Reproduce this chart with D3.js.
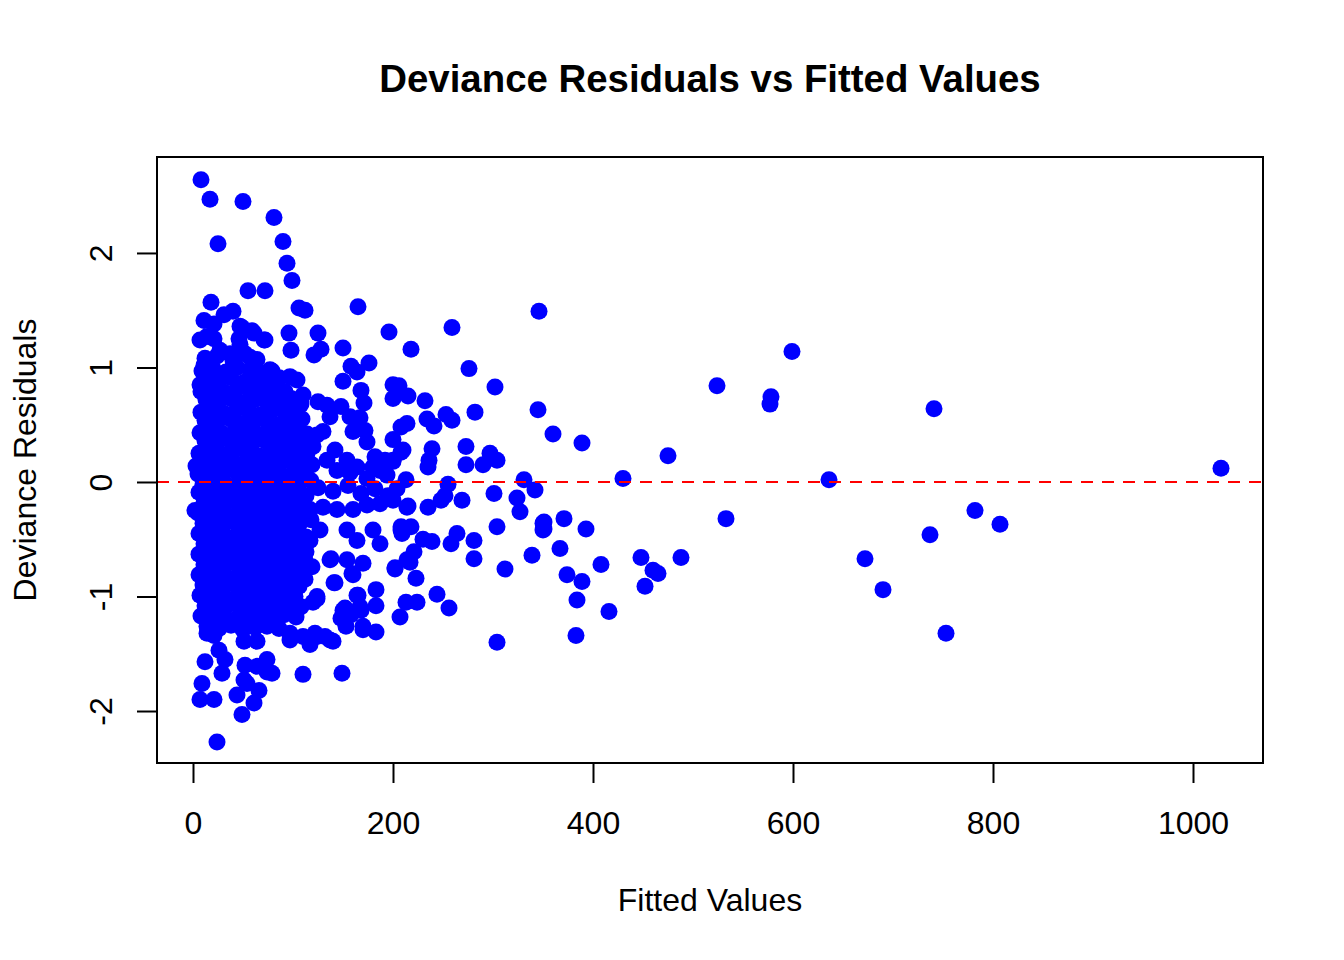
<!DOCTYPE html>
<html>
<head>
<meta charset="utf-8">
<script src="https://cdn.jsdelivr.net/npm/d3@7"></script>
<style>
  body { margin: 0; background: #fff; }
  text { font-family: "Liberation Sans", Arial, Helvetica, sans-serif; }
</style>
</head>
<body>
<div id="chart"></div>
<script>
// tick values for both axes
const xTicks = [0, 200, 400, 600, 800, 1000];
const yTicks = [-2, -1, 0, 1, 2];

// [fitted value, deviance residual]
// big dense block near zero fitted
const corePoints = [
  [12,1.08],[24,1.10],[40,1.06],[52,1.12],[64,1.07],
  [9,0.97],[20,0.99],[33,0.96],[44,1.00],[57,0.98],[68,0.95],[79,0.97],
  [14,0.90],[26,0.88],[38,0.91],[51,0.87],[63,0.90],[74,0.88],[86,0.91],
  [8,0.79],[20,0.81],[32,0.78],[45,0.82],[57,0.80],[69,0.77],[80,0.81],[92,0.79],
  [13,0.72],[25,0.70],[38,0.73],[50,0.69],[62,0.72],[74,0.70],[86,0.71],[98,0.73],[108,0.68],
  [8,0.61],[19,0.63],[31,0.60],[44,0.64],[56,0.62],[68,0.59],[80,0.63],[92,0.61],[103,0.62],
  [12,0.54],[24,0.52],[37,0.55],[49,0.51],[61,0.53],[73,0.54],[85,0.50],[97,0.53],[109,0.55],
  [7,0.43],[18,0.45],[30,0.42],[43,0.46],[55,0.44],[67,0.41],[79,0.45],[91,0.43],[103,0.44],[114,0.42],
  [12,0.36],[24,0.34],[36,0.37],[48,0.33],[60,0.35],[72,0.36],[84,0.34],[96,0.37],[108,0.33],
  [6,0.25],[18,0.27],[30,0.24],[42,0.28],[54,0.26],[66,0.23],[78,0.27],[90,0.25],[102,0.26],
  [11,0.18],[23,0.16],[35,0.19],[47,0.15],[59,0.17],[71,0.18],[83,0.16],[95,0.19],[107,0.17],[119,0.15],
  [5,0.07],[17,0.09],[29,0.06],[41,0.10],[53,0.08],[65,0.07],[77,0.09],[89,0.06],[101,0.08],[113,0.05],
  [10,-0.02],[22,0.00],[34,-0.03],[46,0.01],[58,-0.01],[70,-0.02],[82,0.00],[94,-0.03],[106,-0.01],[118,0.01],
  [6,-0.09],[17,-0.11],[29,-0.08],[41,-0.12],[53,-0.10],[65,-0.09],[77,-0.11],[89,-0.08],[101,-0.10],[113,-0.12],
  [11,-0.18],[23,-0.20],[35,-0.17],[47,-0.21],[59,-0.19],[71,-0.18],[83,-0.20],[95,-0.17],[107,-0.19],
  [5,-0.27],[17,-0.29],[29,-0.26],[41,-0.30],[53,-0.28],[65,-0.27],[77,-0.29],[89,-0.26],[101,-0.28],[113,-0.30],
  [10,-0.36],[22,-0.38],[34,-0.35],[46,-0.39],[58,-0.37],[70,-0.36],[82,-0.38],[94,-0.35],[106,-0.37],[118,-0.33],
  [6,-0.45],[17,-0.47],[29,-0.44],[41,-0.48],[53,-0.46],[65,-0.45],[77,-0.47],[89,-0.44],[101,-0.46],[113,-0.48],
  [11,-0.54],[23,-0.56],[35,-0.53],[47,-0.57],[59,-0.55],[71,-0.54],[83,-0.56],[95,-0.53],[107,-0.55],
  [6,-0.63],[18,-0.65],[30,-0.62],[42,-0.66],[54,-0.64],[66,-0.63],[78,-0.65],[90,-0.62],[102,-0.64],[113,-0.61],
  [11,-0.72],[23,-0.74],[35,-0.71],[47,-0.75],[59,-0.73],[71,-0.72],[83,-0.74],[95,-0.71],[107,-0.73],
  [6,-0.81],[17,-0.83],[29,-0.80],[41,-0.84],[53,-0.82],[65,-0.81],[77,-0.83],[89,-0.80],[101,-0.82],[112,-0.85],
  [10,-0.90],[22,-0.92],[34,-0.89],[46,-0.93],[58,-0.91],[70,-0.90],[82,-0.92],[94,-0.89],[106,-0.91],
  [7,-0.99],[18,-1.01],[30,-0.98],[42,-1.02],[54,-1.00],[66,-0.99],[78,-1.01],[90,-0.98],[102,-1.00],
  [12,-1.08],[24,-1.10],[36,-1.07],[48,-1.11],[60,-1.09],[72,-1.08],[84,-1.10],[96,-1.07],[108,-1.09],
  [8,-1.17],[19,-1.19],[31,-1.16],[43,-1.20],[55,-1.18],[67,-1.17],[79,-1.19],[91,-1.16],[103,-1.18],
  [14,-1.26],[26,-1.28],[38,-1.25],[50,-1.29],[62,-1.27],[74,-1.26],[86,-1.28]
];

// points above the block and on its upper edge
const upperPoints = [
  [8,2.64],[17,2.47],[50,2.45],[81,2.31],[25,2.08],[90,2.10],[94,1.91],[99,1.76],
  [55,1.67],[72,1.67],[106,1.52],[112,1.50],[165,1.53],[18,1.57],[40,1.49],[31,1.46],
  [11,1.41],[21,1.38],[49,1.35],[59,1.32],[96,1.30],[125,1.30],[196,1.31],[259,1.35],[346,1.49],
  [7,1.24],[21,1.25],[46,1.25],[72,1.24],[98,1.15],[121,1.11],[128,1.16],[150,1.17],[218,1.16],
  [14,1.27],[47,1.36],[61,1.30],[71,1.24],[27,1.15],[37,1.12],[47,1.20],[57,1.09],[77,0.98],
  [11,1.02],[7,0.85],[3,0.14],[2,-0.25],
  [158,1.01],[164,0.96],[176,1.04],[276,0.99],[150,0.88],[168,0.80],[171,0.69],
  [200,0.85],[206,0.84],[200,0.73],[215,0.75],[232,0.71],[302,0.83],
  [97,0.92],[104,0.89],[110,0.76],[125,0.70],[134,0.67],[148,0.66],[157,0.57],[167,0.56],
  [160,0.44],[172,0.45],[174,0.35],[137,0.57],[130,0.44],[124,0.41],[208,0.48],[214,0.51],
  [200,0.37],[210,0.28],[200,0.19],[192,0.19],[182,0.22],[180,0.13],[187,0.10],
  [142,0.28],[134,0.19],[154,0.19],[164,0.13],[144,0.10],[157,0.08],[174,0.03],[194,0.06],
  [204,-0.06],[120,0.31],[114,0.25],[107,0.10],
  [253,0.59],[259,0.54],[282,0.61],[234,0.55],[241,0.49],[345,0.63],[360,0.42],[389,0.34],
  [208,0.26],[200,0.18],[239,0.29],[236,0.19],[235,0.13],[273,0.31],[273,0.15],
  [297,0.25],[304,0.19],[290,0.15],[255,-0.02],[213,0.02],
  [125,-0.05],[140,-0.08],[155,-0.03],[168,-0.10],[182,-0.06],[195,-0.12]
];

// points below the block and on its lower edge
const lowerPoints = [
  [215,-0.21],[235,-0.22],[248,-0.16],[252,-0.12],[269,-0.16],[301,-0.10],[324,-0.14],
  [331,0.02],[342,-0.07],[327,-0.26],[350,-0.36],[350,-0.42],[339,-0.64],[312,-0.76],
  [304,-0.39],[281,-0.51],[281,-0.67],[264,-0.45],[258,-0.54],[230,-0.50],[239,-0.52],
  [208,-0.39],[218,-0.39],[209,-0.45],[221,-0.61],[217,-0.70],[202,-0.76],[223,-0.84],
  [244,-0.98],[256,-1.10],[207,-1.18],[213,-1.05],[224,-1.05],[183,-0.94],[183,-1.08],
  [304,-1.40],[183,-1.31],[170,-1.29],[153,-1.18],[153,-1.26],[150,-1.12],[164,-0.99],
  [168,-1.12],[141,-0.88],[138,-0.67],[159,-0.80],[170,-0.71],[149,-1.67],[110,-1.68],
  [124,-1.02],[140,-1.39],[132,-1.35],[117,-1.42],[122,-1.32],[97,-1.38],[97,-1.32],
  [74,-1.55],[64,-1.61],[74,-1.66],
  [12,-1.57],[9,-1.76],[7,-1.90],[21,-1.90],[24,-2.27],[49,-2.03],[44,-1.86],
  [61,-1.93],[66,-1.82],[52,-1.60],[51,-1.73],[54,-1.76],[29,-1.67],[32,-1.55],[26,-1.47],
  [79,-1.67],[14,-1.32],[21,-1.34],[51,-1.39],[64,-1.39],
  [117,-0.24],[130,-0.22],[144,-0.24],[160,-0.24],[174,-0.20],[187,-0.19],[200,-0.16],[214,-0.22],
  [127,-0.42],[117,-0.51],[154,-0.42],[164,-0.51],[180,-0.42],[187,-0.54],[208,-0.42],
  [137,-0.68],[154,-0.68],[160,-0.81],[119,-0.74],[112,-0.68],[142,-0.88],[124,-1.00],
  [120,-1.05],[165,-0.99],[167,-1.09],[202,-0.75],[214,-0.68],[152,-1.10],[158,-1.16],
  [170,-1.26],[148,-1.19],[110,-1.35],[124,-1.35],[137,-1.38]
];

// the sparse tail out to the right
const tailPoints = [
  [371,-0.32],[351,-0.35],[351,-0.41],[393,-0.41],[367,-0.58],[374,-0.81],[389,-0.87],
  [384,-1.03],[383,-1.34],[408,-0.72],[416,-1.13],[430,0.03],[448,-0.66],[452,-0.91],
  [460,-0.77],[465,-0.80],[475,0.23],[488,-0.66],[524,0.84],[533,-0.32],
  [577,0.68],[578,0.745],[599,1.14],[636,0.02],[672,-0.67],[690,-0.94],
  [737,-0.46],[741,0.64],[753,-1.32],[782,-0.25],[807,-0.37],[1028,0.12]
];

const allPoints = corePoints.concat(upperPoints, lowerPoints, tailPoints);

const width = 1344, height = 960;
// plot box in pixels
const box = { left: 157, right: 1263, top: 157, bottom: 763 };

const svg = d3.select("#chart")
    .append("svg")
    .attr("width", width)
    .attr("height", height);

const x = d3.scaleLinear()
    .domain([-36, 1070])
    .range([box.left, box.right]);

const y = d3.scaleLinear()
    .domain([-2.454, 2.838])
    .range([box.bottom, box.top]);

// points
svg.append("g")
    .selectAll("circle")
    .data(allPoints)
    .enter()
    .append("circle")
    .attr("cx", d => x(d[0]))
    .attr("cy", d => y(d[1]))
    .attr("r", 8.5)
    .attr("fill", "#0000ff");

// zero line
svg.append("line")
    .attr("x1", box.left)
    .attr("x2", box.right)
    .attr("y1", y(0))
    .attr("y2", y(0))
    .attr("stroke", "#ff0000")
    .attr("stroke-width", 2)
    .attr("stroke-dasharray", "12,9");

// box
svg.append("rect")
    .attr("x", box.left)
    .attr("y", box.top)
    .attr("width", box.right - box.left)
    .attr("height", box.bottom - box.top)
    .attr("fill", "none")
    .attr("stroke", "#000")
    .attr("stroke-width", 2);

// x axis
const xAxis = svg.append("g")
    .attr("transform", `translate(0,${box.bottom})`)
    .call(d3.axisBottom(x).tickValues(xTicks).tickSize(20).tickPadding(28).tickFormat(d3.format("d")));
xAxis.select(".domain")
    .attr("d", `M${x(0)},0H${x(1000)}`)
    .attr("stroke-width", 2);
xAxis.selectAll(".tick line").attr("stroke-width", 2);
xAxis.selectAll(".tick text")
    .attr("dy", null)
    .attr("y", 71)
    .style("font-size", "32px")
    .attr("fill", "#000");

// y axis, labels turned like R does
const yAxis = svg.append("g")
    .attr("transform", `translate(${box.left},0)`)
    .call(d3.axisLeft(y).tickValues(yTicks).tickSize(20).tickFormat(d => d));
yAxis.select(".domain")
    .attr("d", `M0,${y(-2)}V${y(2)}`)
    .attr("stroke-width", 2);
yAxis.selectAll(".tick line").attr("stroke-width", 2);
yAxis.selectAll(".tick text")
    .attr("x", null)
    .attr("dy", null)
    .attr("text-anchor", "middle")
    .attr("transform", "translate(-45,0) rotate(-90)")
    .style("font-size", "32px")
    .attr("fill", "#000");

// title
svg.append("text")
    .attr("x", (box.left + box.right) / 2)
    .attr("y", 92)
    .attr("text-anchor", "middle")
    .style("font-size", "38.4px")
    .style("font-weight", "bold")
    .text("Deviance Residuals vs Fitted Values");

// axis titles
svg.append("text")
    .attr("x", (box.left + box.right) / 2)
    .attr("y", 911)
    .attr("text-anchor", "middle")
    .style("font-size", "32px")
    .text("Fitted Values");

svg.append("text")
    .attr("transform", `translate(36,${(box.top + box.bottom) / 2}) rotate(-90)`)
    .attr("text-anchor", "middle")
    .style("font-size", "32px")
    .text("Deviance Residuals");
</script>
</body>
</html>
